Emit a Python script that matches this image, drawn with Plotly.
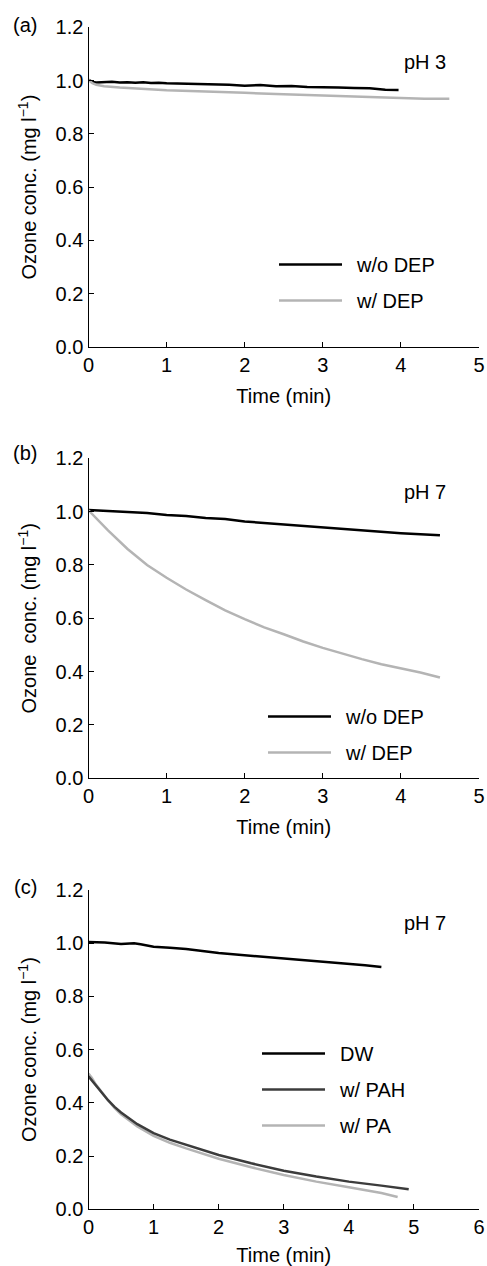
import plotly.graph_objects as go

# ---------------- data ----------------
# Panel (a) pH 3
a_t_wo = [0, 0.05, 0.1, 0.2, 0.3, 0.4, 0.5, 0.6, 0.7, 0.8, 0.9, 1.0, 1.2, 1.4, 1.6, 1.8,
          2.0, 2.2, 2.4, 2.6, 2.8, 3.0, 3.2, 3.4, 3.6, 3.8, 3.97]
a_y_wo = [1.003, 0.995, 0.993, 0.994, 0.996, 0.993, 0.994, 0.992, 0.994, 0.991, 0.992, 0.990,
          0.989, 0.988, 0.986, 0.984, 0.981, 0.983, 0.979, 0.980, 0.976, 0.976, 0.974, 0.972,
          0.971, 0.966, 0.965]
a_t_w = [0, 0.05, 0.1, 0.2, 0.4, 0.6, 0.8, 1.0, 1.3, 1.6, 2.0, 2.4, 2.8, 3.2, 3.6, 4.0, 4.3, 4.62]
a_y_w = [1.002, 0.990, 0.984, 0.979, 0.974, 0.970, 0.967, 0.964, 0.961, 0.957, 0.954, 0.950,
         0.946, 0.943, 0.939, 0.935, 0.932, 0.932]

# Panel (b) pH 7
b_t_wo = [0, 0.25, 0.5, 0.75, 1, 1.25, 1.5, 1.75, 2, 2.5, 3, 3.5, 4, 4.5]
b_y_wo = [1.006, 1.003, 0.998, 0.995, 0.987, 0.984, 0.976, 0.972, 0.963, 0.952, 0.941, 0.932,
          0.919, 0.911]
b_t_w = [0, 0.1, 0.25, 0.5, 0.75, 1, 1.25, 1.5, 1.75, 2, 2.25, 2.5, 2.75, 3, 3.25, 3.5, 3.75,
         4, 4.25, 4.5]
b_y_w = [1.005, 0.975, 0.93, 0.86, 0.80, 0.752, 0.708, 0.668, 0.63, 0.597, 0.566, 0.540, 0.513,
         0.489, 0.467, 0.447, 0.428, 0.413, 0.397, 0.378]

# Panel (c) pH 7
c_t_dw = [0, 0.25, 0.5, 0.7, 0.8, 1.0, 1.25, 1.5, 2.0, 2.5, 3.0, 3.5, 4.0, 4.25, 4.5]
c_y_dw = [1.005, 1.003, 0.997, 1.0, 0.996, 0.987, 0.983, 0.978, 0.963, 0.953, 0.943, 0.934,
          0.924, 0.917, 0.911]
c_t_pah = [0, 0.05, 0.1, 0.2, 0.3, 0.4, 0.5, 0.75, 1, 1.25, 1.5, 2, 2.5, 3, 3.5, 4, 4.5, 4.92]
c_y_pah = [0.50, 0.485, 0.468, 0.438, 0.41, 0.385, 0.364, 0.32, 0.286, 0.262, 0.242, 0.204,
           0.173, 0.145, 0.123, 0.104, 0.089, 0.075]
c_t_pa = [0, 0.05, 0.1, 0.2, 0.3, 0.4, 0.5, 0.75, 1, 1.25, 1.5, 2, 2.5, 3, 3.5, 4, 4.5, 4.75]
c_y_pa = [0.51, 0.495, 0.474, 0.44, 0.41, 0.381, 0.357, 0.311, 0.276, 0.25, 0.229, 0.19, 0.158,
          0.129, 0.104, 0.083, 0.061, 0.046]

y_ticks = [0.0, 0.2, 0.4, 0.6, 0.8, 1.0, 1.2]
x_ticks_ab = [0, 1, 2, 3, 4, 5]
x_ticks_c = [0, 1, 2, 3, 4, 5, 6]

# ---------------- styling ----------------
FONT = "Liberation Sans, Arial, sans-serif"
FS = 20
BLACK = "#000000"
DARK = "#3c3c3c"
LIGHT = "#b4b4b4"
LW = 2.5

W, H = 487, 1266
def py(px):
    return (H - px) / H

x_dom = [88.5 / W, 479 / W]
dom_a = [py(347), py(27.3)]
dom_b = [py(778.3), py(458.3)]
dom_c = [py(1209.3), py(890)]

fig = go.Figure()

SP = "\u2002"

def add(x, y, name, color, xa, ya, leg, rank):
    fig.add_trace(go.Scatter(x=x, y=y, mode="lines", name=SP + name, xaxis=xa, yaxis=ya,
                             line=dict(color=color, width=LW), legend=leg,
                             legendgroup=f"{leg}_{rank}", legendrank=rank, showlegend=True))

add(a_t_wo, a_y_wo, "w/o DEP", BLACK, "x", "y", "legend", 1)
add(a_t_w, a_y_w, "w/ DEP", LIGHT, "x", "y", "legend", 2)
add(b_t_wo, b_y_wo, "w/o DEP", BLACK, "x2", "y2", "legend2", 1)
add(b_t_w, b_y_w, "w/ DEP", LIGHT, "x2", "y2", "legend2", 2)
add(c_t_dw, c_y_dw, "DW", BLACK, "x3", "y3", "legend3", 1)
add(c_t_pa, c_y_pa, "w/ PA", LIGHT, "x3", "y3", "legend3", 3)
add(c_t_pah, c_y_pah, "w/ PAH", DARK, "x3", "y3", "legend3", 2)

ytitle = "Ozone conc. (mg l<sup>\u22121</sup>)"
ytitle_b = "Ozone\u00a0 conc. (mg l<sup>\u22121</sup>)"

def xaxis(anchor, rng, ticks):
    return dict(domain=x_dom, anchor=anchor, range=rng, tickvals=ticks,
                ticktext=[str(t) for t in ticks], showline=True, linecolor="black",
                linewidth=1.2, ticks="inside", ticklen=5, tickcolor="black", showgrid=False,
                zeroline=False, tickfont=dict(size=FS, color="black"),
                ticklabeloverflow="allow",
                title=dict(text="Time (min)", font=dict(size=FS, color="black"), standoff=13),
                automargin=False)

def yaxis(anchor, dom, title):
    return dict(domain=dom, anchor=anchor, range=[0, 1.2], tickvals=y_ticks,
                ticktext=[f"{v:.1f}" for v in y_ticks], showline=True, linecolor="black",
                linewidth=1.2, ticks="inside", ticklen=5, tickcolor="black", showgrid=False,
                zeroline=False, tickfont=dict(size=FS, color="black"),
                ticklabeloverflow="allow",
                title=dict(text=title, font=dict(size=FS, color="black"), standoff=13),
                automargin=False)

def legend(xpx, ypx):
    return dict(x=xpx / W, y=py(ypx), xanchor="left", yanchor="top",
                font=dict(size=FS, color="black", family=FONT), bgcolor="rgba(0,0,0,0)",
                itemwidth=63, tracegroupgap=7, traceorder="grouped")

fig.update_layout(
    width=W, height=H,
    margin=dict(l=0, r=0, t=0, b=0),
    paper_bgcolor="white", plot_bgcolor="white",
    font=dict(family=FONT, size=FS, color="black"),
    xaxis=xaxis("y", [0, 5], x_ticks_ab),
    yaxis=yaxis("x", dom_a, ytitle),
    xaxis2=xaxis("y2", [0, 5], x_ticks_ab),
    yaxis2=yaxis("x2", dom_b, ytitle_b),
    xaxis3=xaxis("y3", [0, 6], x_ticks_c),
    yaxis3=yaxis("x3", dom_c, ytitle),
    legend=legend(274, 245),
    legend2=legend(263, 697),
    legend3=legend(257, 1034),
)

for txt, xpx, ypx in [("(a)", 25, 25), ("(b)", 25, 453), ("(c)", 25, 887),
                      ("pH 3", 425, 62), ("pH 7", 425, 492), ("pH 7", 425, 923)]:
    fig.add_annotation(text=txt, x=xpx / W, y=py(ypx), xref="paper", yref="paper",
                       showarrow=False, xanchor="center", yanchor="middle",
                       font=dict(size=FS, color="black", family=FONT))

fig.write_html("out.html", config={"displayModeBar": False},
               post_script="document.body.style.margin='0';document.body.style.overflow='hidden';")
